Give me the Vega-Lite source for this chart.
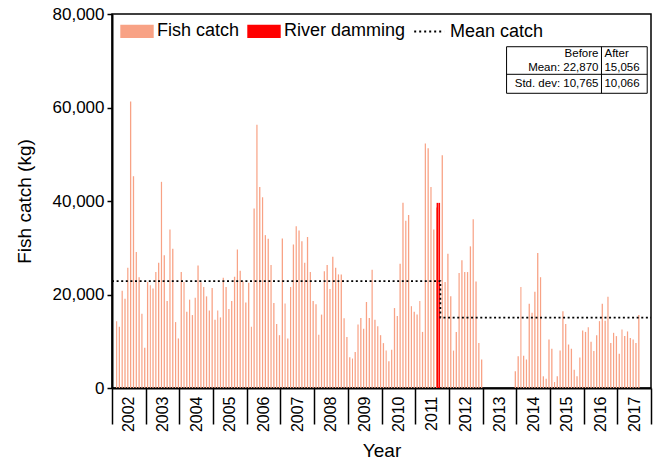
{
  "$schema": "https://vega.github.io/schema/vega-lite/v6.json",
  "width": 539,
  "height": 374,
  "autosize": {"type": "none"},
  "padding": {"left": 112, "top": 14, "right": 5, "bottom": 78},
  "background": "white",
  "config": {
    "font": "Liberation Sans",
    "view": {"stroke": "black", "strokeWidth": 1.5}
  },
  "datasets": {
    "catch": [
      {"date": "2002-02-01", "catch": 14300, "series": "Fish catch"},
      {"date": "2002-03-01", "catch": 13100, "series": "Fish catch"},
      {"date": "2002-04-01", "catch": 20800, "series": "Fish catch"},
      {"date": "2002-05-01", "catch": 19100, "series": "Fish catch"},
      {"date": "2002-06-01", "catch": 25700, "series": "Fish catch"},
      {"date": "2002-07-01", "catch": 61300, "series": "Fish catch"},
      {"date": "2002-08-01", "catch": 45300, "series": "Fish catch"},
      {"date": "2002-09-01", "catch": 29100, "series": "Fish catch"},
      {"date": "2002-10-01", "catch": 23700, "series": "Fish catch"},
      {"date": "2002-11-01", "catch": 15900, "series": "Fish catch"},
      {"date": "2002-12-01", "catch": 8600, "series": "Fish catch"},
      {"date": "2003-01-01", "catch": 22700, "series": "Fish catch"},
      {"date": "2003-02-01", "catch": 22000, "series": "Fish catch"},
      {"date": "2003-03-01", "catch": 21300, "series": "Fish catch"},
      {"date": "2003-04-01", "catch": 24800, "series": "Fish catch"},
      {"date": "2003-05-01", "catch": 26800, "series": "Fish catch"},
      {"date": "2003-06-01", "catch": 44100, "series": "Fish catch"},
      {"date": "2003-07-01", "catch": 28400, "series": "Fish catch"},
      {"date": "2003-08-01", "catch": 18600, "series": "Fish catch"},
      {"date": "2003-09-01", "catch": 33900, "series": "Fish catch"},
      {"date": "2003-10-01", "catch": 29800, "series": "Fish catch"},
      {"date": "2003-11-01", "catch": 14100, "series": "Fish catch"},
      {"date": "2003-12-01", "catch": 10600, "series": "Fish catch"},
      {"date": "2004-01-01", "catch": 24800, "series": "Fish catch"},
      {"date": "2004-02-01", "catch": 22700, "series": "Fish catch"},
      {"date": "2004-03-01", "catch": 16300, "series": "Fish catch"},
      {"date": "2004-04-01", "catch": 18900, "series": "Fish catch"},
      {"date": "2004-05-01", "catch": 15600, "series": "Fish catch"},
      {"date": "2004-06-01", "catch": 19300, "series": "Fish catch"},
      {"date": "2004-07-01", "catch": 26200, "series": "Fish catch"},
      {"date": "2004-08-01", "catch": 22600, "series": "Fish catch"},
      {"date": "2004-09-01", "catch": 21600, "series": "Fish catch"},
      {"date": "2004-10-01", "catch": 19600, "series": "Fish catch"},
      {"date": "2004-11-01", "catch": 16600, "series": "Fish catch"},
      {"date": "2004-12-01", "catch": 21400, "series": "Fish catch"},
      {"date": "2005-01-01", "catch": 14600, "series": "Fish catch"},
      {"date": "2005-02-01", "catch": 16600, "series": "Fish catch"},
      {"date": "2005-03-01", "catch": 15100, "series": "Fish catch"},
      {"date": "2005-04-01", "catch": 23600, "series": "Fish catch"},
      {"date": "2005-05-01", "catch": 21600, "series": "Fish catch"},
      {"date": "2005-06-01", "catch": 16900, "series": "Fish catch"},
      {"date": "2005-07-01", "catch": 18600, "series": "Fish catch"},
      {"date": "2005-08-01", "catch": 23800, "series": "Fish catch"},
      {"date": "2005-09-01", "catch": 29600, "series": "Fish catch"},
      {"date": "2005-10-01", "catch": 25100, "series": "Fish catch"},
      {"date": "2005-11-01", "catch": 22800, "series": "Fish catch"},
      {"date": "2005-12-01", "catch": 18300, "series": "Fish catch"},
      {"date": "2006-01-01", "catch": 22500, "series": "Fish catch"},
      {"date": "2006-02-01", "catch": 13100, "series": "Fish catch"},
      {"date": "2006-03-01", "catch": 38400, "series": "Fish catch"},
      {"date": "2006-04-01", "catch": 56300, "series": "Fish catch"},
      {"date": "2006-05-01", "catch": 43000, "series": "Fish catch"},
      {"date": "2006-06-01", "catch": 40800, "series": "Fish catch"},
      {"date": "2006-07-01", "catch": 32700, "series": "Fish catch"},
      {"date": "2006-08-01", "catch": 31900, "series": "Fish catch"},
      {"date": "2006-09-01", "catch": 26300, "series": "Fish catch"},
      {"date": "2006-10-01", "catch": 18200, "series": "Fish catch"},
      {"date": "2006-11-01", "catch": 13700, "series": "Fish catch"},
      {"date": "2006-12-01", "catch": 11300, "series": "Fish catch"},
      {"date": "2007-01-01", "catch": 32000, "series": "Fish catch"},
      {"date": "2007-02-01", "catch": 18100, "series": "Fish catch"},
      {"date": "2007-03-01", "catch": 10600, "series": "Fish catch"},
      {"date": "2007-04-01", "catch": 21600, "series": "Fish catch"},
      {"date": "2007-05-01", "catch": 30700, "series": "Fish catch"},
      {"date": "2007-06-01", "catch": 34600, "series": "Fish catch"},
      {"date": "2007-07-01", "catch": 33700, "series": "Fish catch"},
      {"date": "2007-08-01", "catch": 31400, "series": "Fish catch"},
      {"date": "2007-09-01", "catch": 26800, "series": "Fish catch"},
      {"date": "2007-10-01", "catch": 32300, "series": "Fish catch"},
      {"date": "2007-11-01", "catch": 24800, "series": "Fish catch"},
      {"date": "2007-12-01", "catch": 18600, "series": "Fish catch"},
      {"date": "2008-01-01", "catch": 17900, "series": "Fish catch"},
      {"date": "2008-02-01", "catch": 11400, "series": "Fish catch"},
      {"date": "2008-03-01", "catch": 15700, "series": "Fish catch"},
      {"date": "2008-04-01", "catch": 25000, "series": "Fish catch"},
      {"date": "2008-05-01", "catch": 26300, "series": "Fish catch"},
      {"date": "2008-06-01", "catch": 21200, "series": "Fish catch"},
      {"date": "2008-07-01", "catch": 28100, "series": "Fish catch"},
      {"date": "2008-08-01", "catch": 25700, "series": "Fish catch"},
      {"date": "2008-09-01", "catch": 24300, "series": "Fish catch"},
      {"date": "2008-10-01", "catch": 24300, "series": "Fish catch"},
      {"date": "2008-11-01", "catch": 14900, "series": "Fish catch"},
      {"date": "2008-12-01", "catch": 10900, "series": "Fish catch"},
      {"date": "2009-01-01", "catch": 6600, "series": "Fish catch"},
      {"date": "2009-02-01", "catch": 6300, "series": "Fish catch"},
      {"date": "2009-03-01", "catch": 7700, "series": "Fish catch"},
      {"date": "2009-04-01", "catch": 13600, "series": "Fish catch"},
      {"date": "2009-05-01", "catch": 15000, "series": "Fish catch"},
      {"date": "2009-06-01", "catch": 12700, "series": "Fish catch"},
      {"date": "2009-07-01", "catch": 18400, "series": "Fish catch"},
      {"date": "2009-08-01", "catch": 15000, "series": "Fish catch"},
      {"date": "2009-09-01", "catch": 25300, "series": "Fish catch"},
      {"date": "2009-10-01", "catch": 14600, "series": "Fish catch"},
      {"date": "2009-11-01", "catch": 13200, "series": "Fish catch"},
      {"date": "2009-12-01", "catch": 11300, "series": "Fish catch"},
      {"date": "2010-01-01", "catch": 9600, "series": "Fish catch"},
      {"date": "2010-02-01", "catch": 8000, "series": "Fish catch"},
      {"date": "2010-03-01", "catch": 5700, "series": "Fish catch"},
      {"date": "2010-04-01", "catch": 8200, "series": "Fish catch"},
      {"date": "2010-05-01", "catch": 17100, "series": "Fish catch"},
      {"date": "2010-06-01", "catch": 15400, "series": "Fish catch"},
      {"date": "2010-07-01", "catch": 26600, "series": "Fish catch"},
      {"date": "2010-08-01", "catch": 39600, "series": "Fish catch"},
      {"date": "2010-09-01", "catch": 35800, "series": "Fish catch"},
      {"date": "2010-10-01", "catch": 37000, "series": "Fish catch"},
      {"date": "2010-11-01", "catch": 17500, "series": "Fish catch"},
      {"date": "2010-12-01", "catch": 16300, "series": "Fish catch"},
      {"date": "2011-01-01", "catch": 15700, "series": "Fish catch"},
      {"date": "2011-02-01", "catch": 18600, "series": "Fish catch"},
      {"date": "2011-03-01", "catch": 12000, "series": "Fish catch"},
      {"date": "2011-04-01", "catch": 52300, "series": "Fish catch"},
      {"date": "2011-05-01", "catch": 51300, "series": "Fish catch"},
      {"date": "2011-06-01", "catch": 43000, "series": "Fish catch"},
      {"date": "2011-07-01", "catch": 33900, "series": "Fish catch"},
      {"date": "2011-08-01", "catch": 38600, "series": "Fish catch"},
      {"date": "2011-09-01", "catch": 39600, "series": "River damming"},
      {"date": "2011-10-01", "catch": 49800, "series": "Fish catch"},
      {"date": "2011-11-01", "catch": 22700, "series": "Fish catch"},
      {"date": "2011-12-01", "catch": 28700, "series": "Fish catch"},
      {"date": "2012-01-01", "catch": 19600, "series": "Fish catch"},
      {"date": "2012-02-01", "catch": 8000, "series": "Fish catch"},
      {"date": "2012-03-01", "catch": 12000, "series": "Fish catch"},
      {"date": "2012-04-01", "catch": 24600, "series": "Fish catch"},
      {"date": "2012-05-01", "catch": 27300, "series": "Fish catch"},
      {"date": "2012-06-01", "catch": 24800, "series": "Fish catch"},
      {"date": "2012-07-01", "catch": 24800, "series": "Fish catch"},
      {"date": "2012-08-01", "catch": 30300, "series": "Fish catch"},
      {"date": "2012-09-01", "catch": 36100, "series": "Fish catch"},
      {"date": "2012-10-01", "catch": 22800, "series": "Fish catch"},
      {"date": "2012-11-01", "catch": 9600, "series": "Fish catch"},
      {"date": "2012-12-01", "catch": 6100, "series": "Fish catch"},
      {"date": "2013-12-01", "catch": 3600, "series": "Fish catch"},
      {"date": "2014-01-01", "catch": 6800, "series": "Fish catch"},
      {"date": "2014-02-01", "catch": 21600, "series": "Fish catch"},
      {"date": "2014-03-01", "catch": 6900, "series": "Fish catch"},
      {"date": "2014-04-01", "catch": 6100, "series": "Fish catch"},
      {"date": "2014-05-01", "catch": 18000, "series": "Fish catch"},
      {"date": "2014-06-01", "catch": 16100, "series": "Fish catch"},
      {"date": "2014-07-01", "catch": 20600, "series": "Fish catch"},
      {"date": "2014-08-01", "catch": 28900, "series": "Fish catch"},
      {"date": "2014-09-01", "catch": 23700, "series": "Fish catch"},
      {"date": "2014-10-01", "catch": 2500, "series": "Fish catch"},
      {"date": "2014-11-01", "catch": 2000, "series": "Fish catch"},
      {"date": "2014-12-01", "catch": 10400, "series": "Fish catch"},
      {"date": "2015-01-01", "catch": 8400, "series": "Fish catch"},
      {"date": "2015-02-01", "catch": 1300, "series": "Fish catch"},
      {"date": "2015-03-01", "catch": 2500, "series": "Fish catch"},
      {"date": "2015-04-01", "catch": 8000, "series": "Fish catch"},
      {"date": "2015-05-01", "catch": 16400, "series": "Fish catch"},
      {"date": "2015-06-01", "catch": 13700, "series": "Fish catch"},
      {"date": "2015-07-01", "catch": 9300, "series": "Fish catch"},
      {"date": "2015-08-01", "catch": 8400, "series": "Fish catch"},
      {"date": "2015-09-01", "catch": 3900, "series": "Fish catch"},
      {"date": "2015-10-01", "catch": 2500, "series": "Fish catch"},
      {"date": "2015-11-01", "catch": 6500, "series": "Fish catch"},
      {"date": "2015-12-01", "catch": 12300, "series": "Fish catch"},
      {"date": "2016-01-01", "catch": 12000, "series": "Fish catch"},
      {"date": "2016-02-01", "catch": 13000, "series": "Fish catch"},
      {"date": "2016-03-01", "catch": 9900, "series": "Fish catch"},
      {"date": "2016-04-01", "catch": 7900, "series": "Fish catch"},
      {"date": "2016-05-01", "catch": 11300, "series": "Fish catch"},
      {"date": "2016-06-01", "catch": 14300, "series": "Fish catch"},
      {"date": "2016-07-01", "catch": 18000, "series": "Fish catch"},
      {"date": "2016-08-01", "catch": 14400, "series": "Fish catch"},
      {"date": "2016-09-01", "catch": 19500, "series": "Fish catch"},
      {"date": "2016-10-01", "catch": 9600, "series": "Fish catch"},
      {"date": "2016-11-01", "catch": 11800, "series": "Fish catch"},
      {"date": "2016-12-01", "catch": 11100, "series": "Fish catch"},
      {"date": "2017-01-01", "catch": 7300, "series": "Fish catch"},
      {"date": "2017-02-01", "catch": 12500, "series": "Fish catch"},
      {"date": "2017-03-01", "catch": 11100, "series": "Fish catch"},
      {"date": "2017-04-01", "catch": 12100, "series": "Fish catch"},
      {"date": "2017-05-01", "catch": 10700, "series": "Fish catch"},
      {"date": "2017-06-01", "catch": 10400, "series": "Fish catch"},
      {"date": "2017-07-01", "catch": 9600, "series": "Fish catch"},
      {"date": "2017-08-01", "catch": 15600, "series": "Fish catch"}
    ],
    "mean": [
      {"date": "2002-01-01", "mean": 22870, "seq": 1},
      {"date": "2011-10-01", "mean": 22870, "seq": 2},
      {"date": "2011-10-01", "mean": 15056, "seq": 3},
      {"date": "2018-01-01", "mean": 15056, "seq": 4}
    ]
  },
  "layer": [
    {
      "data": {"name": "catch"},
      "mark": {"type": "bar", "width": {"band": 0.8}},
      "encoding": {
        "x": {
          "field": "date", "timeUnit": "utcyearmonth", "type": "temporal", "title": "Year",
          "scale": {"type": "utc", "domain": [{"year": 2002, "month": 1, "date": 1, "utc": true}, {"year": 2018, "month": 1, "date": 1, "utc": true}]},
          "axis": {
            "tickCount": {"interval": "year", "step": 1},
            "labelExpr": "utcFormat(datum.value, '%Y') == '2018' ? '' : utcFormat(datum.value, '%Y')",
            "labelAngle": -90, "labelOffset": 16.8, "labelPadding": -28, "tickSize": 36,
            "labelFontSize": 16, "labelBound": false, "labelOverlap": false, "labelFlush": false,
            "labelColor": "black", "titleColor": "black",
            "titleFontSize": 19, "titleFontWeight": "normal", "titlePadding": 10,
            "grid": false, "domainColor": "black", "domainWidth": 2, "tickColor": "black", "tickWidth": 1.5
          }
        },
        "y": {
          "field": "catch", "type": "quantitative", "title": "Fish catch (kg)",
          "scale": {"domain": [0, 80000], "nice": false},
          "axis": {
            "values": [0, 20000, 40000, 60000, 80000],
            "labelExpr": "format(datum.value, ',')",
            "labelFontSize": 17, "labelColor": "black", "labelPadding": 3, "tickSize": 5,
            "titleFontSize": 19, "titleFontWeight": "normal", "titleColor": "black", "titlePadding": 18,
            "grid": false, "domainColor": "black", "domainWidth": 2, "tickColor": "black", "tickWidth": 1.5
          }
        },
        "color": {
          "field": "series", "type": "nominal",
          "scale": {"domain": ["Fish catch", "River damming", "Mean catch"], "range": ["#F8A285", "#FF0000", "#000000"]},
          "legend": {
            "title": null, "orient": "none", "legendX": 8, "legendY": 0, "direction": "horizontal", "padding": 0,
            "labelFontSize": 18, "labelColor": "black", "labelFont": "Liberation Sans", "labelLimit": 300,
            "symbolSize": 1000, "labelOffset": 3, "columnPadding": 4,
            "encode": {
              "symbols": {
                "update": {
                  "shape": {"signal": "datum.value === 'Mean catch' ? 'M-1,0H0.9' : 'M-1,-0.36H1V0.36H-1Z'"},
                  "fill": {"signal": "datum.value === 'Mean catch' ? 'transparent' : scale('color', datum.value)"},
                  "stroke": {"signal": "datum.value === 'Mean catch' ? '#000000' : 'transparent'"},
                  "strokeDash": {"signal": "datum.value === 'Mean catch' ? [2, 3] : [1, 0]"},
                  "strokeWidth": {"value": 1.8},
                  "opacity": {"value": 1},
                  "fillOpacity": {"value": 1}
                }
              }
            }
          }
        }
      }
    },
    {
      "data": {"name": "catch"},
      "transform": [{"filter": "datum.series === 'River damming'"}],
      "mark": {"type": "rule", "color": "#FF0000", "strokeWidth": 2},
      "encoding": {
        "x": {"field": "date", "type": "temporal", "title": "Year"},
        "y": {"field": "catch", "type": "quantitative", "title": "Fish catch (kg)"},
        "y2": {"datum": 0}
      }
    },
    {
      "data": {"name": "mean"},
      "mark": {"type": "line", "strokeDash": [2, 2.6], "strokeWidth": 1.8},
      "encoding": {
        "x": {"field": "date", "type": "temporal", "title": "Year"},
        "y": {"field": "mean", "type": "quantitative", "title": "Fish catch (kg)"},
        "order": {"field": "seq", "type": "quantitative"},
        "color": {"datum": "Mean catch", "type": "nominal"}
      }
    },
    {
      "data": {"values": [{}]},
      "mark": {"type": "rect", "fill": "white", "stroke": "black", "strokeWidth": 1},
      "encoding": {
        "x": {"datum": {"year": 2013, "month": 9, "date": 18, "utc": true}, "type": "temporal", "title": "Year"},
        "x2": {"datum": {"year": 2017, "month": 11, "date": 21, "utc": true}},
        "y": {"datum": 73000, "type": "quantitative", "title": "Fish catch (kg)"},
        "y2": {"datum": 63040}
      }
    },
    {
      "data": {"values": [{}]},
      "mark": {"type": "rule", "stroke": "black", "strokeWidth": 1},
      "encoding": {
        "x": {"datum": {"year": 2016, "month": 7, "date": 13, "utc": true}, "type": "temporal", "title": "Year"},
        "y": {"datum": 73000, "type": "quantitative", "title": "Fish catch (kg)"},
        "y2": {"datum": 63040}
      }
    },
    {
      "data": {"values": [{}]},
      "mark": {"type": "rule", "stroke": "black", "strokeWidth": 1},
      "encoding": {
        "x": {"datum": {"year": 2013, "month": 9, "date": 18, "utc": true}, "type": "temporal", "title": "Year"},
        "x2": {"datum": {"year": 2017, "month": 11, "date": 21, "utc": true}},
        "y": {"datum": 67100, "type": "quantitative", "title": "Fish catch (kg)"}
      }
    },
    {
      "data": {"values": [{"t": "Before"}]},
      "mark": {"type": "text", "align": "right", "baseline": "alphabetic", "dx": -3, "fontSize": 11.5, "color": "black", "font": "Liberation Sans"},
      "encoding": {
        "x": {"datum": {"year": 2016, "month": 7, "date": 13, "utc": true}, "type": "temporal", "title": "Year"},
        "y": {"datum": 70750, "type": "quantitative", "title": "Fish catch (kg)"},
        "text": {"field": "t"}
      }
    },
    {
      "data": {"values": [{"t": "Mean: 22,870"}]},
      "mark": {"type": "text", "align": "right", "baseline": "alphabetic", "dx": -3, "fontSize": 11.5, "color": "black", "font": "Liberation Sans"},
      "encoding": {
        "x": {"datum": {"year": 2016, "month": 7, "date": 13, "utc": true}, "type": "temporal", "title": "Year"},
        "y": {"datum": 67800, "type": "quantitative", "title": "Fish catch (kg)"},
        "text": {"field": "t"}
      }
    },
    {
      "data": {"values": [{"t": "After"}]},
      "mark": {"type": "text", "align": "left", "baseline": "alphabetic", "dx": 3, "fontSize": 11.5, "color": "black", "font": "Liberation Sans"},
      "encoding": {
        "x": {"datum": {"year": 2016, "month": 7, "date": 13, "utc": true}, "type": "temporal", "title": "Year"},
        "y": {"datum": 70750, "type": "quantitative", "title": "Fish catch (kg)"},
        "text": {"field": "t"}
      }
    },
    {
      "data": {"values": [{"t": "15,056"}]},
      "mark": {"type": "text", "align": "left", "baseline": "alphabetic", "dx": 3, "fontSize": 11.5, "color": "black", "font": "Liberation Sans"},
      "encoding": {
        "x": {"datum": {"year": 2016, "month": 7, "date": 13, "utc": true}, "type": "temporal", "title": "Year"},
        "y": {"datum": 67800, "type": "quantitative", "title": "Fish catch (kg)"},
        "text": {"field": "t"}
      }
    },
    {
      "data": {"values": [{"t": "Std. dev: 10,765"}]},
      "mark": {"type": "text", "align": "right", "baseline": "alphabetic", "dx": -3, "fontSize": 11.5, "color": "black", "font": "Liberation Sans"},
      "encoding": {
        "x": {"datum": {"year": 2016, "month": 7, "date": 13, "utc": true}, "type": "temporal", "title": "Year"},
        "y": {"datum": 64390, "type": "quantitative", "title": "Fish catch (kg)"},
        "text": {"field": "t"}
      }
    },
    {
      "data": {"values": [{"t": "10,066"}]},
      "mark": {"type": "text", "align": "left", "baseline": "alphabetic", "dx": 3, "fontSize": 11.5, "color": "black", "font": "Liberation Sans"},
      "encoding": {
        "x": {"datum": {"year": 2016, "month": 7, "date": 13, "utc": true}, "type": "temporal", "title": "Year"},
        "y": {"datum": 64390, "type": "quantitative", "title": "Fish catch (kg)"},
        "text": {"field": "t"}
      }
    }
  ]
}
